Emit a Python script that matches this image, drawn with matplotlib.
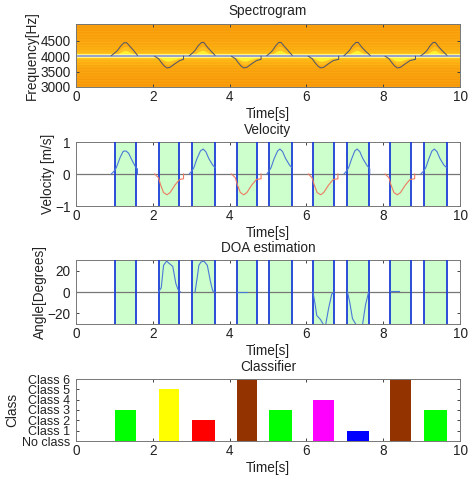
import numpy as np
import matplotlib
matplotlib.use("Agg")
import matplotlib.pyplot as plt

plt.rcParams['font.family'] = ['Liberation Sans', 'DejaVu Sans']
W, H = 468, 479

band_start = [1.02, 2.15, 3.03, 4.18, 5.03, 6.17, 7.05, 8.17, 9.07]
band_end = [1.57, 2.69, 3.62, 4.72, 5.62, 6.72, 7.63, 8.73, 9.65]
class_vals = [3, 5, 2, 6, 3, 4, 1, 6, 3]
class_cols = ['#00ff00', '#ffff00', '#ff0000', '#923300', '#00ff00', '#ff00ff', '#0000ff', '#923300', '#00ff00']
class_labels = ['No class', 'Class 1', 'Class 2', 'Class 3', 'Class 4', 'Class 5', 'Class 6']

# velocity events (time, m/s)
vel_pos_t = [
    [0.92, 1.0, 1.05, 1.15, 1.23, 1.30, 1.37, 1.45, 1.55, 1.60, 1.60],
    [2.95, 3.02, 3.07, 3.15, 3.24, 3.31, 3.38, 3.46, 3.56, 3.62],
    [4.97, 5.03, 5.08, 5.16, 5.25, 5.31, 5.38, 5.46, 5.56, 5.62],
    [6.98, 7.05, 7.10, 7.18, 7.26, 7.32, 7.39, 7.47, 7.57, 7.65, 7.65],
    [8.98, 9.06, 9.11, 9.19, 9.27, 9.33, 9.40, 9.48, 9.58, 9.65],
]
vel_pos_v = [
    [0.0, 0.1, 0.2, 0.52, 0.71, 0.72, 0.65, 0.45, 0.22, 0.16, 0.0],
    [0.0, 0.1, 0.2, 0.48, 0.72, 0.78, 0.70, 0.48, 0.28, 0.2],
    [0.0, 0.1, 0.2, 0.48, 0.72, 0.78, 0.70, 0.48, 0.28, 0.2],
    [0.0, 0.1, 0.2, 0.48, 0.72, 0.78, 0.70, 0.48, 0.28, 0.16, 0.0],
    [0.0, 0.1, 0.2, 0.48, 0.72, 0.78, 0.70, 0.48, 0.28, 0.2],
]
vel_neg_t = [
    [2.05, 2.15, 2.20, 2.28, 2.37, 2.45, 2.58, 2.70, 2.80, 2.80],
    [4.05, 4.15, 4.20, 4.28, 4.37, 4.45, 4.58, 4.70, 4.82, 4.82],
    [6.05, 6.15, 6.20, 6.28, 6.37, 6.45, 6.58, 6.70, 6.82, 6.82],
    [8.05, 8.15, 8.20, 8.28, 8.37, 8.45, 8.58, 8.70, 8.82, 8.82],
]
vel_neg_v = [
    [0.0, -0.12, -0.33, -0.58, -0.65, -0.58, -0.34, -0.17, -0.15, 0.0],
    [0.0, -0.12, -0.33, -0.58, -0.65, -0.58, -0.34, -0.17, -0.15, 0.0],
    [0.0, -0.12, -0.33, -0.58, -0.65, -0.58, -0.34, -0.17, -0.15, 0.0],
    [0.0, -0.12, -0.33, -0.58, -0.65, -0.58, -0.34, -0.17, -0.15, 0.0],
]

# spectrogram contours (time, Hz)
spec_t = [
    [0.92, 1.0, 1.08, 1.17, 1.25, 1.32, 1.40, 1.50, 1.60],
    [2.05, 2.15, 2.22, 2.30, 2.37, 2.45, 2.58, 2.70, 2.80, 2.80],
    [2.95, 3.03, 3.10, 3.18, 3.27, 3.33, 3.40, 3.50, 3.62],
    [4.05, 4.15, 4.22, 4.30, 4.37, 4.45, 4.58, 4.70, 4.82, 4.82],
    [4.97, 5.05, 5.12, 5.20, 5.28, 5.34, 5.42, 5.52, 5.63],
    [6.05, 6.15, 6.22, 6.30, 6.37, 6.45, 6.58, 6.70, 6.84, 6.84],
    [6.98, 7.05, 7.12, 7.20, 7.29, 7.35, 7.42, 7.52, 7.66],
    [8.05, 8.15, 8.22, 8.30, 8.37, 8.45, 8.58, 8.70, 8.84, 8.84],
    [8.98, 9.07, 9.14, 9.22, 9.30, 9.36, 9.43, 9.53, 9.66],
]
spec_f = [
    [4020, 4100, 4190, 4340, 4440, 4440, 4330, 4190, 4030],
    [4000, 3920, 3800, 3680, 3620, 3640, 3760, 3860, 3900, 4000],
    [4020, 4100, 4190, 4340, 4450, 4450, 4330, 4190, 4030],
    [4000, 3920, 3800, 3680, 3620, 3640, 3760, 3860, 3900, 4000],
    [4020, 4100, 4190, 4340, 4450, 4450, 4330, 4190, 4030],
    [4000, 3920, 3800, 3680, 3620, 3640, 3760, 3860, 3900, 4000],
    [4020, 4100, 4190, 4340, 4450, 4450, 4330, 4190, 4030],
    [4000, 3920, 3800, 3680, 3620, 3640, 3760, 3860, 3900, 4000],
    [4020, 4100, 4190, 4340, 4450, 4450, 4330, 4190, 4030],
]

# DOA events (time, degrees)
doa_t = [
    [2.15, 2.22, 2.28, 2.36, 2.42, 2.52, 2.60, 2.66, 2.72],
    [3.10, 3.15, 3.20, 3.25, 3.33, 3.42, 3.50, 3.56, 3.62],
    [4.18, 4.45],
    [6.17, 6.22, 6.27, 6.37, 6.45, 6.50, 6.58, 6.66, 6.72],
    [7.07, 7.13, 7.20, 7.30, 7.38, 7.46, 7.54, 7.62],
    [8.17, 8.42],
]
doa_v = [
    [0, 4, 25, 29, 27, 24, 8, 2, 0],
    [0, 12, 25, 28, 29, 25, 10, 1, 0],
    [0, 0],
    [0, -10, -22, -26, -31, -31, -15, -2, 0],
    [0, -10, -25, -31, -31, -31, -12, 0],
    [0.5, 0.5],
]

# horizontal band profile of the spectrogram background (bin value by frequency, high to low)
stripe_vals = [0.20, 0.32, 0.24, 0.34, 0.22, 0.36, 0.25, 0.38, 0.26, 0.36, 0.28, 0.40, 0.30, 0.42, 0.32, 0.44,
               0.36, 0.46, 0.40, 0.50, 0.46, 0.58, 0.62, 1.00, 0.62, 0.56, 0.46, 0.50, 0.40, 0.46, 0.34, 0.42,
               0.30, 0.40, 0.28, 0.38, 0.26, 0.36, 0.24, 0.34, 0.22, 0.34, 0.20, 0.32, 0.20, 0.30]


def place(top, bottom):
    return [76 / W, 1 - bottom / H, (460 - 76) / W, (bottom - top) / H]


def style(ax, title, ylabel, ylim, yticks, pad=1, tpad=5.5):
    ax.set_xlim(0, 10)
    ax.set_ylim(*ylim)
    ax.set_xticks(range(0, 11, 2))
    ax.set_yticks(yticks)
    ax.set_title(title, fontsize=9.8, pad=tpad, color='#222222')
    ax.set_xlabel('Time[s]', fontsize=9.8, labelpad=2.5, color='#222222')
    ax.set_ylabel(ylabel, fontsize=9.8, labelpad=pad, color='#222222')
    ax.tick_params(axis='both', direction='in', length=2.5, width=0.7, labelsize=9.8, top=True,
                   right=True, colors='#222222', color='#444444')
    ax.tick_params(axis='x', pad=2)
    ax.tick_params(axis='y', pad=4)
    for s in ax.spines.values():
        s.set_linewidth(0.7)
        s.set_color('#777777')


def bands(ax):
    for a, b in zip(band_start, band_end):
        ax.axvspan(a, b, color='#ccffcc', lw=0, zorder=1)
        ax.axvline(a, color='#1c3fd8', lw=1.3, zorder=3)
        ax.axvline(b, color='#1c3fd8', lw=1.3, zorder=3)
    ax.axhline(0, color='#777777', lw=0.9, zorder=2)


fig = plt.figure(figsize=(W / 100, H / 100), dpi=100)

# Spectrogram
ax = fig.add_axes(place(24, 87))
cmap = matplotlib.colors.LinearSegmentedColormap.from_list(
    's', ['#f58c08', '#fbaa10', '#ffd820', '#ffff50'])
img = np.array(stripe_vals)[:, None]
ax.imshow(img, aspect='auto', extent=[0, 10, 3000, 5050], cmap=cmap, vmin=0.1, vmax=1.0,
          interpolation='bilinear', zorder=0)
for t, f in zip(spec_t, spec_f):
    t, f = np.array(t), np.array(f)
    mid = 4000 + (f - 4000) * 0.42
    outer = 4000 + (f - 4000) * 0.72
    ax.fill_between(t, 4000, outer, color='#ffc020', lw=0, zorder=1)
    ax.fill_between(t, 4000, mid, color='#fff030', lw=0, zorder=1)
    ax.plot(t, f, color='#565868', lw=0.75, zorder=3)
ax.axhline(4010, color='#ffffa0', lw=2.6, zorder=2)
ax.axhline(4010, color='#7d88d8', lw=1.1, zorder=2)
style(ax, 'Spectrogram', 'Frequency[Hz]', (3000, 5050), [3000, 3500, 4000, 4500], pad=1, tpad=6.5)
ax.set_yticklabels(['3000', '3500', '4000', '4500'])

# Velocity
ax = fig.add_axes(place(142, 206))
bands(ax)
for t, v in zip(vel_pos_t, vel_pos_v):
    ax.plot(t, v, color='#4a78d8', lw=0.8, zorder=4)
for t, v in zip(vel_neg_t, vel_neg_v):
    ax.plot(t, v, color='#ee7a60', lw=0.8, zorder=4)
style(ax, 'Velocity', 'Velocity [m/s]', (-1, 1), [-1, 0, 1], pad=0)

# DOA
ax = fig.add_axes(place(260, 324))
bands(ax)
for t, v in zip(doa_t, doa_v):
    ax.plot(t, v, color='#4a78d8', lw=0.8, zorder=4)
style(ax, 'DOA estimation', 'Angle[Degrees]', (-30, 30), [-20, 0, 20], pad=0)

# Classifier
ax = fig.add_axes(place(379, 441))
for a, b, c, col in zip(band_start, band_end, class_vals, class_cols):
    ax.bar((a + b) / 2, c, width=b - a, color=col, lw=0, zorder=2)
style(ax, 'Classifier', 'Class', (0, 6), range(7), pad=2)
ax.set_yticklabels(class_labels)
ax.tick_params(axis='y', labelsize=9)

fig.savefig('out.png', dpi=100)
